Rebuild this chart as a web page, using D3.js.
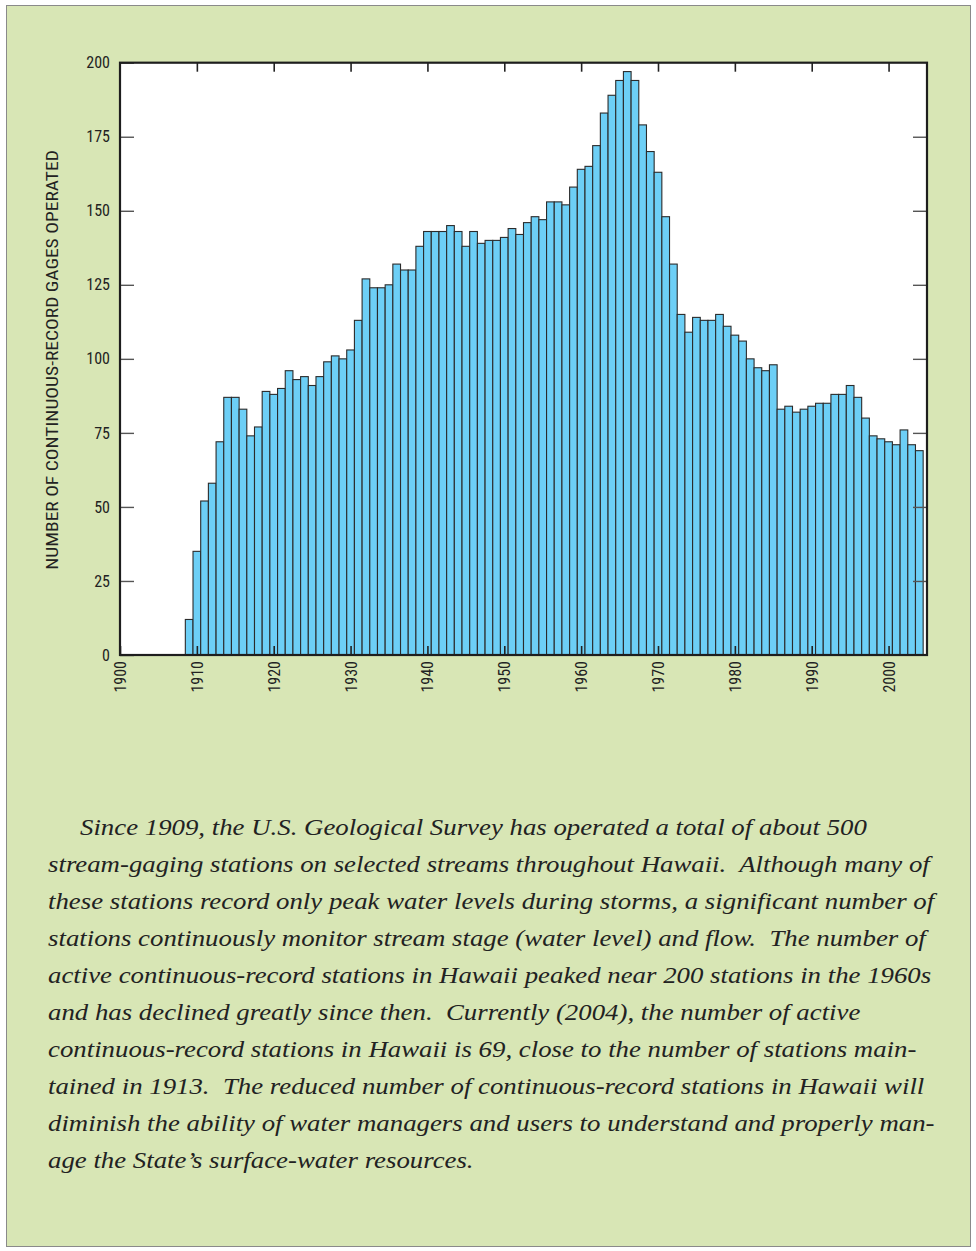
<!DOCTYPE html>
<html><head><meta charset="utf-8">
<script src="https://cdn.jsdelivr.net/npm/d3@7"></script>
<style>
html,body{margin:0;padding:0;background:#fff;}
svg{display:block;}
.txt{white-space:pre;}
</style></head>
<body>
<svg id="c" width="976" height="1251"></svg>
<script>
const firstYear = 1909;
const gages = [12,35,52,58,72,87,87,83,74,77,
  89,88,90,96,93,94,91,94,99,101,100,103,
  113,127,124,124,125,132,130,130,138,
  143,143,143,145,143,138,143,139,140,140,
  141,144,142,146,148,147,153,153,152,158,
  164,165,172,183,189,194,197,194,179,170,
  163,148,132,115,109,114,113,113,115,111,
  108,106,100,97,96,98,83,84,82,83,
  84,85,85,88,88,91,87,80,74,73,
  72,71,76,71,69];
const xTicks = [1900,1910,1920,1930,1940,1950,1960,1970,1980,1990,2000];
const yTicks = [0,25,50,75,100,125,150,175,200];
const yTitle = "NUMBER OF CONTINUOUS-RECORD GAGES OPERATED";
const paragraph = [
  "Since 1909, the U.S. Geological Survey has operated a total of about 500",
  "stream-gaging stations on selected streams throughout Hawaii.  Although many of",
  "these stations record only peak water levels during storms, a significant number of",
  "stations continuously monitor stream stage (water level) and flow.  The number of",
  "active continuous-record stations in Hawaii peaked near 200 stations in the 1960s",
  "and has declined greatly since then.  Currently (2004), the number of active",
  "continuous-record stations in Hawaii is 69, close to the number of stations main-",
  "tained in 1913.  The reduced number of continuous-record stations in Hawaii will",
  "diminish the ability of water managers and users to understand and properly man-",
  "age the State\u2019s surface-water resources."
];

// font detection
const cv = document.createElement("canvas").getContext("2d");
function has(f){
  const s="mmmmmmmmmmlliWWW0123456789";
  for (const base of ["monospace","serif"]) {
    cv.font = `40px ${base}`; const a = cv.measureText(s).width;
    cv.font = `40px '${f}', ${base}`; const b = cv.measureText(s).width;
    if (a!==b) return true;
  }
  return false;
}
function pick(list, dflt){ for (const f of list) if (has(f)) return f; return dflt; }
const serifF = pick(["Liberation Serif","Times New Roman","Tinos","Nimbus Roman","Nimbus Roman No9 L","FreeSerif","Noto Serif"],"DejaVu Serif");
const narrowF = pick(["Liberation Sans Narrow","Arial Narrow","Roboto Condensed","Nimbus Sans Narrow"],null);
const sansF = narrowF || pick(["Liberation Sans","Arial","Roboto","Noto Sans"],"DejaVu Sans");
const sansScale = narrowF ? 1 : 0.82;

const data = gages.map((v,i)=>({year:firstYear+i, value:v}));
const svg = d3.select("#c");
const narrow = `'${sansF}', sans-serif`;

svg.append("rect").attr("x",6.5).attr("y",5.5).attr("width",964).attr("height",1241)
  .attr("fill","#d8e6b5").attr("stroke","#8a8a8a").attr("stroke-width",1);

const L=120, R=927, T=62.7, B=655;
const x = d3.scaleLinear().domain([1900,2005]).range([L,R]);
const y = d3.scaleLinear().domain([0,200]).range([B,T]);

svg.append("rect").attr("x",L).attr("y",T).attr("width",R-L).attr("height",B-T).attr("fill","#fff");

svg.append("g").selectAll("rect").data(data).join("rect")
  .attr("x",d=>x(d.year-0.5)).attr("width",d=>x(d.year+0.5)-x(d.year-0.5))
  .attr("y",d=>y(d.value)).attr("height",d=>y(0)-y(d.value))
  .attr("fill","#6dcff6").attr("stroke","#2b2b2b").attr("stroke-width",1.1);

const axB = d3.axisBottom(x).tickValues(xTicks).tickSize(-9).tickFormat(d3.format("d"));
const gB = svg.append("g").attr("transform",`translate(0,${B})`).call(axB);
gB.select(".domain").remove();
gB.selectAll("line").attr("stroke","#222").attr("stroke-width",1.6);
gB.selectAll("text").attr("font-family",narrow).attr("font-size",16).attr("fill","#222")
  .attr("text-anchor","end").attr("y",0).attr("dy",null)
  .attr("transform",`translate(0,6) rotate(-90) scale(${sansScale},1)`)
  .attr("dominant-baseline","central");

const axT = d3.axisTop(x).tickValues(xTicks.slice(1)).tickSize(-9).tickFormat("");
const gT = svg.append("g").attr("transform",`translate(0,${T})`).call(axT);
gT.select(".domain").remove();
gT.selectAll("line").attr("stroke","#222").attr("stroke-width",1.6);

const axL = d3.axisLeft(y).tickValues(yTicks).tickSize(-14).tickFormat(d3.format("d"));
const gL = svg.append("g").attr("transform",`translate(${L},0)`).call(axL);
gL.select(".domain").remove();
gL.selectAll("line").attr("stroke","#555").attr("stroke-width",1.4);
gL.selectAll("text").attr("font-family",narrow).attr("font-size",16).attr("fill","#222")
  .attr("x",0).attr("transform",`translate(-10,0) scale(${sansScale},1)`);

const axR = d3.axisRight(y).tickValues(yTicks.slice(1,-1)).tickSize(-14).tickFormat("");
const gR = svg.append("g").attr("transform",`translate(${R},0)`).call(axR);
gR.select(".domain").remove();
gR.selectAll("line").attr("stroke","#555").attr("stroke-width",1.4);

svg.append("rect").attr("x",L).attr("y",T).attr("width",R-L).attr("height",B-T)
  .attr("fill","none").attr("stroke","#1e1e1e").attr("stroke-width",2.2);

const tt = svg.append("text")
  .attr("text-anchor","middle").attr("font-family",narrow).attr("font-size",16).attr("fill","#222")
  .text(yTitle);
const tw = tt.node().getComputedTextLength();
tt.attr("transform",`translate(58,360) rotate(-90) scale(${420/tw},1)`);

const pg = svg.append("g");
const lines = pg.selectAll("text").data(paragraph).join("text")
  .attr("class","txt")
  .attr("font-family",`'${serifF}', serif`)
  .attr("font-style","italic").attr("font-size",24).attr("fill","#222")
  .text(d=>d);
const w2 = lines.nodes()[1].getComputedTextLength();
const sx = 882 / w2;
lines.attr("transform",(d,i)=>`translate(${i===0?80:48},${835+i*37}) scale(${sx},1)`);
</script>
</body></html>
